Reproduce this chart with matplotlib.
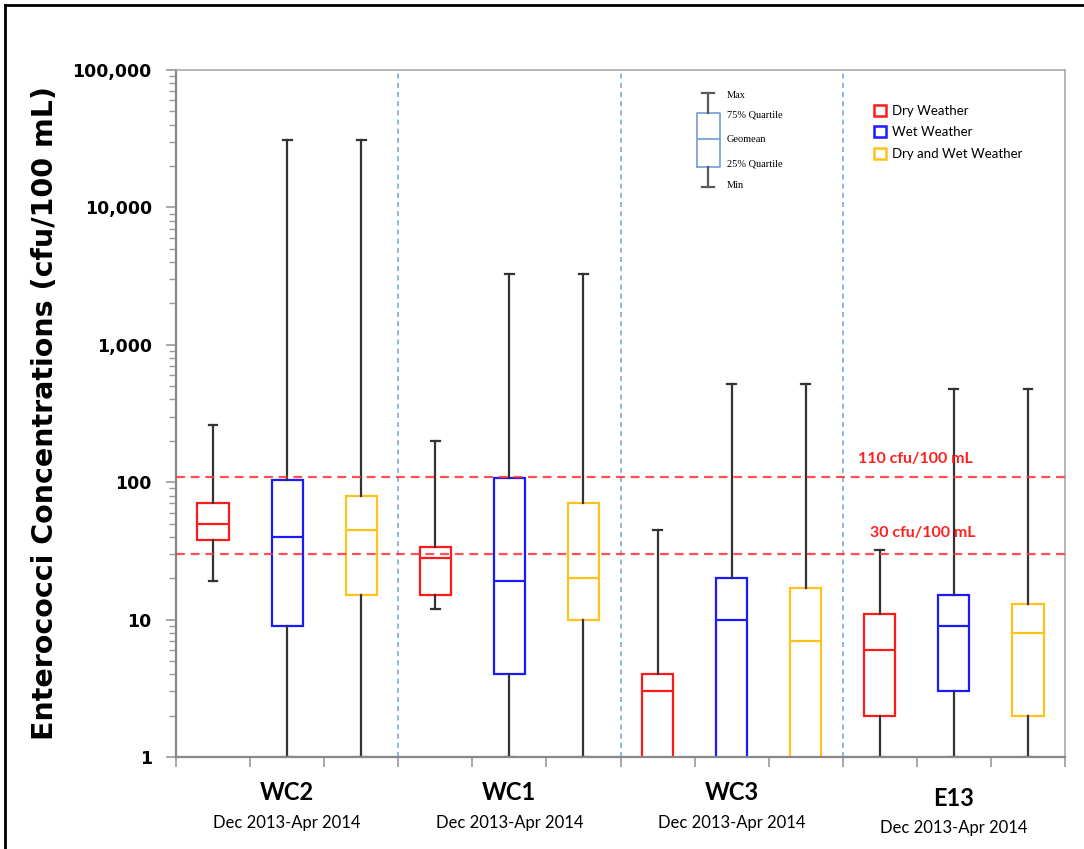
import numpy as np
import matplotlib.pyplot as plt
import matplotlib.ticker as mticker
from matplotlib.patches import Patch
from matplotlib.lines import Line2D
from matplotlib.transforms import blended_transform_factory

sites = ['WC2', 'WC1', 'WC3', 'E13']
period = 'Dec 2013-Apr 2014'
conditions = ['Dry Weather', 'Wet Weather', 'Dry and Wet Weather']
colors = ['#ff1a1a', '#1a1aff', '#ffc21a']

# one value per box: site by site, dry / wet / dry+wet
q_max = [260, 31000, 31000, 200, 3300, 3300, 45, 520, 520, 32, 480, 480]
q75 = [70, 104, 80, 34, 108, 70, 4, 20, 17, 11, 15, 13]
geomean = [50, 40, 45, 28, 19, 20, 3, 10, 7, 6, 9, 8]
q25 = [38, 9, 15, 15, 4, 10, 0.5, 0.5, 0.5, 2, 3, 2]
q_min = [19, 1, 1, 12, 1, 1, 0.2, 0.2, 0.2, 1, 1, 1]
thresholds = [110, 30]
threshold_labels = ['110 cfu/100 mL', '30 cfu/100 mL']

fig = plt.figure(figsize=(10.84, 8.49), dpi=100)
ax = fig.add_axes([176/1084, 92/849, 889/1084, 687/849])

whisk = dict(color='#333333', lw=1.6)
for i, c in enumerate(colors):
    stats = []
    pos = []
    for k in range(len(sites)):
        j = 3*k + i
        stats.append(dict(whislo=q_min[j], q1=q25[j], med=geomean[j],
                          q3=q75[j], whishi=q_max[j]))
        pos.append(3*k + i + 0.5)
    ax.bxp(stats, positions=pos, widths=0.42, capwidths=0.12,
           showfliers=False, patch_artist=True, manage_ticks=False,
           boxprops=dict(facecolor='white', edgecolor=c, lw=1.6),
           medianprops=dict(color=c, lw=1.6),
           whiskerprops=whisk, capprops=whisk)

for t in thresholds:
    ax.axhline(t, color='#ff3333', ls=(0, (4, 2.6)), lw=1.6, alpha=0.85, zorder=5)
ax.text(9.2, thresholds[0]*1.33, threshold_labels[0], color='#ff2020',
        fontsize=11.5, fontweight='bold', family='Lato', va='center')
ax.text(9.37, thresholds[1]*1.42, threshold_labels[1], color='#ff2020',
        fontsize=11.5, fontweight='bold', family='Lato', va='center')

for x in [3, 6, 9]:
    ax.axvline(x, color='#7ea8d8', ls=(0, (3, 2.5)), lw=1.2, zorder=1)

ax.set_yscale('log')
ax.set_ylim(1, 1e5)
ax.set_xlim(0, 12)
ax.yaxis.set_major_formatter(mticker.FuncFormatter(lambda v, p: f'{v:,.0f}'))
ax.yaxis.set_minor_formatter(mticker.NullFormatter())
ax.set_xticks(range(13))
ax.set_xticklabels([])
ax.tick_params(axis='x', length=7, color='#999999', width=1.2)
ax.tick_params(axis='y', which='major', length=7.5, color='#999999', width=1.2,
               labelsize=12.5, pad=10)
ax.tick_params(axis='y', which='minor', length=5, color='#999999', width=1)
for lab in ax.get_yticklabels():
    lab.set_fontweight('bold')
for s in ax.spines.values():
    s.set_color('#aaaaaa')
    s.set_linewidth(1.2)
for s in ['left', 'bottom']:
    ax.spines[s].set_color('#888888')
    ax.spines[s].set_linewidth(1.6)

ax.set_ylabel('Enterococci Concentrations (cfu/100 mL)', fontsize=20.5,
              fontweight='bold', labelpad=10)

tr = blended_transform_factory(ax.transData, ax.transAxes)
for k, s in enumerate(sites):
    dy = -0.008 if s == 'E13' else 0
    ax.text(3*k + 1.5, -0.052 + dy, s, transform=tr, ha='center', va='center',
            fontsize=17, fontweight='bold', family='Lato')
    ax.text(3*k + 1.5, -0.096 + dy, period, transform=tr, ha='center', va='center',
            fontsize=12, family='Lato')

handles = [Patch(facecolor='white', edgecolor=c, lw=1.8) for c in colors]
fig.legend(handles, conditions, loc='upper left',
           bbox_to_anchor=(862/1084, 1 - 93/849), frameon=False,
           prop=dict(family='Lato', size=9.5), handlelength=0.9,
           handleheight=0.9, handletextpad=0.5, labelspacing=0.72)

# schematic key for the box symbols
key = fig.add_axes([680/1084, 1 - 200/849, 120/1084, 120/849])
key.set_xlim(0, 120)
key.set_ylim(200, 80)
key.axis('off')
key.bxp([dict(whislo=187, q1=167, med=139, q3=113, whishi=93)], positions=[28],
        widths=23, capwidths=12, showfliers=False, manage_ticks=False,
        boxprops=dict(color='#7ba3d8', lw=1.3),
        medianprops=dict(color='#7ba3d8', lw=1.3),
        whiskerprops=dict(color='#5a5a5a', lw=1.6),
        capprops=dict(color='#5a5a5a', lw=1.6))
for txt, yy in [('Max', 95), ('75% Quartile', 115), ('Geomean', 139),
                ('25% Quartile', 164), ('Min', 186)]:
    key.text(47, yy, txt, family='Liberation Serif', fontsize=7.5, va='center')

fig.add_artist(Line2D([5/1084, 5/1084], [0, 1 - 5/849], color='black', lw=2))
fig.add_artist(Line2D([5/1084, 1], [1 - 5/849, 1 - 5/849], color='black', lw=2))

fig.savefig('out.png', dpi=100)
